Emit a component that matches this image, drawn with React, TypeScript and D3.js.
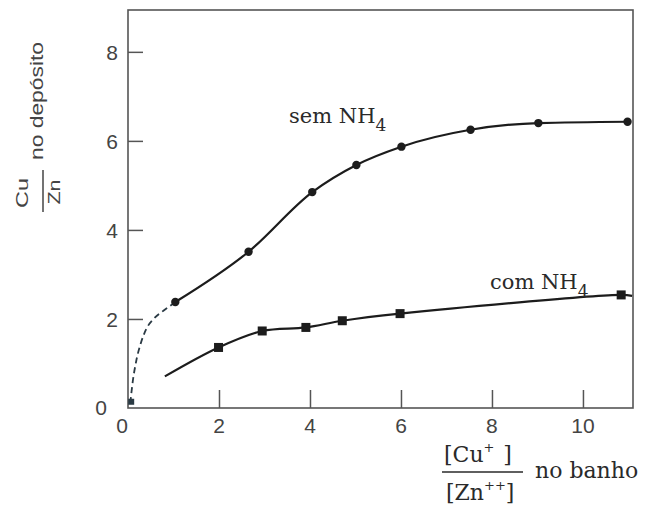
import React, { useEffect, useRef } from 'react';
import * as d3 from 'd3';

// sem NH4 (circles)
const semX = [1.04, 2.65, 4.05, 5.02, 6.01, 7.53, 9.02, 10.98];
const semY = [2.38, 3.51, 4.85, 5.46, 5.87, 6.25, 6.4, 6.43];
// dashed extrapolation towards origin
const semDashX = [0.05, 0.1, 0.18, 0.28, 0.4, 0.58, 0.8, 1.04];
const semDashY = [0.11, 0.56, 1.05, 1.45, 1.77, 2.02, 2.2, 2.38];

// com NH4 (squares)
const comX = [1.99, 2.95, 3.91, 4.71, 5.98, 10.84];
const comY = [1.36, 1.73, 1.81, 1.96, 2.12, 2.54];
const comStart = [0.81, 0.71];
const comEnd = [11.08, 2.52];

const origin = [0.07, 0.14];

const xTicks = [2, 4, 6, 8, 10];
const yTicks = [2, 4, 6, 8];

const SANS = '"Liberation Sans", Arial, sans-serif';
const SERIF = '"DejaVu Serif", serif';

const Chart = () => {
  const svgRef = useRef(null);

  useEffect(() => {
    const svg = d3.select(svgRef.current);
    svg.selectAll('*').remove();

    const x = d3.scaleLinear().domain([0, 11.1]).range([128, 633]);
    const y = d3.scaleLinear().domain([0, 8.94]).range([408, 10]);

    const axisColor = '#555';
    const inkColor = '#1c1c1c';
    const labelColor = '#444';

    // frame
    svg
      .append('rect')
      .attr('x', x(0))
      .attr('y', y(8.94))
      .attr('width', x(11.1) - x(0))
      .attr('height', y(0) - y(8.94))
      .attr('fill', 'none')
      .attr('stroke', axisColor)
      .attr('stroke-width', 1.6);

    // y ticks (inward)
    svg
      .append('g')
      .attr('transform', `translate(${x(0)},0)`)
      .call(d3.axisRight(y).tickValues(yTicks).tickSize(15).tickFormat(() => ''))
      .call((g) => g.select('.domain').remove())
      .selectAll('line')
      .attr('stroke', axisColor)
      .attr('stroke-width', 1.5);

    // x ticks (inward)
    svg
      .append('g')
      .attr('transform', `translate(0,${y(0)})`)
      .call(d3.axisTop(x).tickValues(xTicks).tickSize(18).tickFormat(() => ''))
      .call((g) => g.select('.domain').remove())
      .selectAll('line')
      .attr('stroke', axisColor)
      .attr('stroke-width', 1.5);

    // tick labels
    svg
      .append('g')
      .selectAll('text')
      .data(yTicks)
      .enter()
      .append('text')
      .attr('x', 118)
      .attr('y', (d) => y(d) + 8)
      .attr('text-anchor', 'end')
      .style('font-family', SANS)
      .style('font-size', '21px')
      .style('fill', labelColor)
      .text((d) => d);

    svg
      .append('text')
      .attr('x', 107)
      .attr('y', 415)
      .attr('text-anchor', 'end')
      .style('font-family', SANS)
      .style('font-size', '21px')
      .style('fill', labelColor)
      .text('0');

    svg
      .append('g')
      .selectAll('text')
      .data([0, ...xTicks])
      .enter()
      .append('text')
      .attr('x', (d) => (d === 0 ? 122 : x(d)))
      .attr('y', 433)
      .attr('text-anchor', 'middle')
      .style('font-family', SANS)
      .style('font-size', '21px')
      .style('fill', labelColor)
      .text((d) => d);

    // curves
    const line = d3
      .line()
      .x((d) => x(d[0]))
      .y((d) => y(d[1]))
      .curve(d3.curveMonotoneX);

    svg
      .append('path')
      .attr('d', line(d3.zip(semDashX, semDashY)))
      .attr('fill', 'none')
      .attr('stroke', '#2a3a44')
      .attr('stroke-width', 1.8)
      .attr('stroke-dasharray', '6,4');

    svg
      .append('path')
      .attr('d', line(d3.zip(semX, semY)))
      .attr('fill', 'none')
      .attr('stroke', inkColor)
      .attr('stroke-width', 2.2);

    const comLine = [comStart, ...d3.zip(comX, comY), comEnd];
    svg
      .append('path')
      .attr('d', line.curve(d3.curveCatmullRom)(comLine))
      .attr('fill', 'none')
      .attr('stroke', inkColor)
      .attr('stroke-width', 2.2);

    // markers
    svg
      .append('g')
      .selectAll('circle')
      .data(d3.zip(semX, semY))
      .enter()
      .append('circle')
      .attr('cx', (d) => x(d[0]))
      .attr('cy', (d) => y(d[1]))
      .attr('r', 4.2)
      .attr('fill', inkColor);

    svg
      .append('g')
      .selectAll('rect')
      .data(d3.zip(comX, comY))
      .enter()
      .append('rect')
      .attr('x', (d) => x(d[0]) - 4.5)
      .attr('y', (d) => y(d[1]) - 4.5)
      .attr('width', 9)
      .attr('height', 9)
      .attr('fill', inkColor);

    svg
      .append('rect')
      .attr('x', x(origin[0]) - 3)
      .attr('y', y(origin[1]) - 3)
      .attr('width', 6)
      .attr('height', 6)
      .attr('fill', '#2a3a44');

    // series labels
    const sem = svg
      .append('text')
      .attr('x', 289)
      .attr('y', 123)
      .style('font-family', SERIF)
      .style('font-size', '21px')
      .style('fill', '#2a2a2a');
    sem.append('tspan').text('sem NH');
    sem.append('tspan').attr('dy', 8).style('font-size', '17px').text('4');

    const com = svg
      .append('text')
      .attr('x', 490)
      .attr('y', 289)
      .style('font-family', SERIF)
      .style('font-size', '21px')
      .style('fill', '#2a2a2a');
    com.append('tspan').text('com NH');
    com.append('tspan').attr('dy', 8).style('font-size', '17px').text('4');

    // y axis title
    const yt = svg.append('g').style('font-family', SANS).style('fill', labelColor);
    yt.append('text')
      .attr('transform', 'translate(43,101) rotate(-90)')
      .attr('text-anchor', 'middle')
      .attr('textLength', 118)
      .attr('lengthAdjust', 'spacingAndGlyphs')
      .style('font-size', '18px')
      .text('no depósito');
    yt.append('text')
      .attr('transform', 'translate(28,193) rotate(-90)')
      .attr('text-anchor', 'middle')
      .attr('textLength', 30)
      .attr('lengthAdjust', 'spacingAndGlyphs')
      .style('font-size', '17px')
      .text('Cu');
    yt.append('line')
      .attr('x1', 43)
      .attr('x2', 43)
      .attr('y1', 170)
      .attr('y2', 212)
      .attr('stroke', labelColor)
      .attr('stroke-width', 1.5);
    yt.append('text')
      .attr('transform', 'translate(60,192) rotate(-90)')
      .attr('text-anchor', 'middle')
      .attr('textLength', 25)
      .attr('lengthAdjust', 'spacingAndGlyphs')
      .style('font-size', '17px')
      .text('Zn');

    // x axis title
    const xt = svg.append('g').style('font-family', SERIF).style('fill', '#2a2a2a').style('font-size', '22px');
    const num = xt.append('text').attr('x', 444).attr('y', 462);
    num.append('tspan').text('[Cu');
    num.append('tspan').attr('dy', -10).style('font-size', '13px').text('+');
    num.append('tspan').attr('dy', 10).text('\u2009\u2009]');
    xt.append('line')
      .attr('x1', 442)
      .attr('x2', 523)
      .attr('y1', 472)
      .attr('y2', 472)
      .attr('stroke', '#2a2a2a')
      .attr('stroke-width', 1.5);
    const den = xt.append('text').attr('x', 446).attr('y', 500);
    den.append('tspan').text('[Zn');
    den.append('tspan').attr('dy', -10).style('font-size', '13px').text('++');
    den.append('tspan').attr('dy', 10).text(']');
    xt.append('text').attr('x', 535).attr('y', 478).text('no banho');
  }, []);

  return (
    <svg
      ref={svgRef}
      width={647}
      height={508}
      style={{ position: 'absolute', left: 0, top: 0, background: '#ffffff' }}
    ></svg>
  );
};

export default function App() {
  return <Chart />;
}
